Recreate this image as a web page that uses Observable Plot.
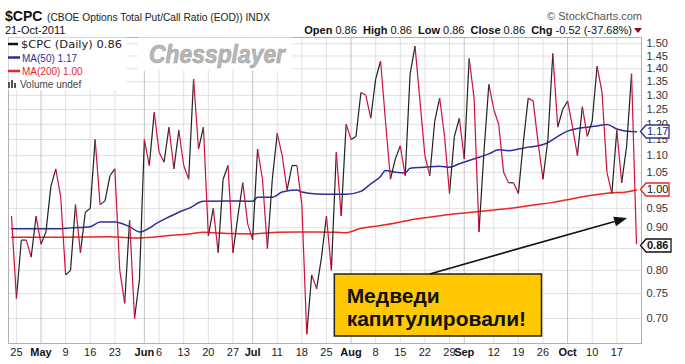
<!DOCTYPE html>
<html><head><meta charset="utf-8">
<script src="https://cdn.jsdelivr.net/npm/d3@7"></script>
<script src="https://cdn.jsdelivr.net/npm/@observablehq/plot@0.6"></script>
<style>
body{margin:0;background:#fff;font-family:"Liberation Sans",Arial,sans-serif;}
#wrap{position:relative;width:685px;height:364px;overflow:hidden;background:#fff;}
#chart{position:absolute;left:0;top:0;}
#overlay{position:absolute;left:0;top:0;pointer-events:none;}
</style></head><body>
<div id="wrap"><div id="chart"></div><svg id="overlay" width="685" height="364"></svg></div>
<script>
// $CPC daily closes, trading days 21-Apr-2011 .. 21-Oct-2011 (index = trading day)
const cpc = [
0.93,0.74,0.87,0.87,0.83,0.93,0.86,0.89,1.01,1.06,
0.98,0.79,0.80,0.96,0.84,0.94,0.95,1.15,0.96,0.97,
1.04,1.06,0.80,0.73,0.92,0.70,0.78,1.15,1.07,1.24,
1.11,1.08,1.19,1.06,1.18,1.07,1.03,1.36,1.12,1.19,
0.88,0.95,0.84,1.03,1.07,0.84,0.93,1.02,0.91,0.87,
1.12,1.03,0.85,1.03,1.17,1.10,1.00,1.07,1.07,0.96,
0.67,0.79,0.76,0.83,0.93,0.80,1.11,0.93,1.20,1.15,
1.16,1.31,1.30,1.22,1.36,1.43,1.21,1.03,1.09,1.13,
1.04,1.38,1.49,1.28,1.10,1.04,1.21,1.29,1.16,0.99,
1.16,1.22,1.09,1.44,1.29,0.89,1.11,1.34,1.25,1.20,
1.05,1.02,1.02,0.99,1.14,1.29,1.28,1.14,1.03,1.15,
1.46,1.19,1.25,1.28,1.19,1.10,1.26,1.16,1.21,1.41,
1.31,1.05,0.99,1.18,1.02,1.13,1.38,0.86];

// MA(50) read at sample trading days
const ma50Idx = [0,10,12,16,18,21,24,26,30,34,36,39,44,49,50,53,55,58,59,62,66,68,71,73,75,76,78,80,81,84,87,89,91,93,95,97,99,101,103,105,107,109,110,111,113,115,117,119,121,123,125,127];
const ma50Val = [0.898,0.898,0.900,0.903,0.915,0.915,0.903,0.890,0.915,0.940,0.950,0.969,0.970,0.969,0.980,0.980,0.994,1.000,0.994,0.989,0.988,0.988,0.996,1.017,1.038,1.055,1.050,1.048,1.062,1.065,1.068,1.065,1.075,1.085,1.095,1.105,1.118,1.115,1.120,1.126,1.130,1.140,1.150,1.160,1.177,1.186,1.190,1.194,1.199,1.184,1.177,1.175];

// MA(200) read at sample trading days
const ma200Idx = [0,10,20,26,32,36,39,44,49,54,58,62,66,68,71,75,78,81,85,89,95,99,103,108,110,114,118,122,124,127];
const ma200Val = [0.877,0.877,0.878,0.875,0.881,0.885,0.889,0.886,0.885,0.889,0.890,0.890,0.889,0.888,0.899,0.906,0.912,0.920,0.927,0.934,0.942,0.947,0.953,0.962,0.966,0.976,0.985,0.992,0.993,1.000];

// x-axis ticks (trading-day index) and labels
const weekIdx = [1,11,16,21,30,35,40,45,54,59,64,74,79,84,89,98,103,108,118,123];
const weekLabels = ["25","9","16","23","6","13","20","27","11","18","25","8","15","22","29","12","19","26","10","17"];
const monthIdx = [6,27,49,69,92,113];
const monthLabels = ["May","Jun","Jul","Aug","Sep","Oct"];

// y-axis ticks
const yTicks = [0.70,0.75,0.80,0.85,0.90,0.95,1.00,1.05,1.10,1.15,1.20,1.25,1.30,1.35,1.40,1.45,1.50];
const yLabelTicks = [0.70,0.75,0.80,0.90,0.95,1.05,1.10,1.15,1.20,1.25,1.30,1.35,1.40,1.45,1.50];

// right-axis value flags
const flagValues = [1.175, 1.00, 0.857];
const flagLabels = ["1.17", "1.00", "0.86"];

// annotation
const noteLines = ["Медведи", "капитулировали!"];

const UP = "#222222", DOWN = "#d0103a", BLUE = "#2e2e96", RED = "#ee2424";
const flagColors = [BLUE, RED, "#111"];

const noteBox = {x1: 65.7, x2: 107.8, y1: 0.6658, y2: 0.7908};
const noteText = noteLines.map((t, k) => ({t, x: 68.1, y: [0.730, 0.685][k]}));
const arrow = {x1: 85.1, y1: 0.791, x2: 125.2, y2: 0.924};

const segs = d3.range(cpc.length - 1).map(i => ({i, a: cpc[i], b: cpc[i + 1]}));
const ma50 = ma50Idx.map((x, k) => ({x, v: ma50Val[k]}));
const ma200 = ma200Idx.map((x, k) => ({x, v: ma200Val[k]}));
const labelMap = new Map([...weekIdx.map((d, k) => [d, weekLabels[k]]), ...monthIdx.map((d, k) => [d, monthLabels[k]])]);
const X_DOMAIN = [-0.61, 128.02];

function arrowMark(index, scales) {
  const g = d3.create("svg:g");
  const x1 = scales.x(arrow.x1), y1 = scales.y(arrow.y1), x2 = scales.x(arrow.x2), y2 = scales.y(arrow.y2);
  const ang = Math.atan2(y2 - y1, x2 - x1), L = 13, W = 5;
  const bx = x2 - L * Math.cos(ang), by = y2 - L * Math.sin(ang);
  g.append("line").attr("x1", x1).attr("y1", y1).attr("x2", bx).attr("y2", by)
    .attr("stroke", "#111").attr("stroke-width", 1.6);
  const px = -Math.sin(ang) * W, py = Math.cos(ang) * W;
  g.append("path").attr("d", `M${x2},${y2}L${bx + px},${by + py}L${bx - px},${by - py}Z`).attr("fill", "#111");
  return g.node();
}

const chart = Plot.plot({
  width: 685, height: 364,
  marginTop: 37, marginBottom: 21, marginLeft: 8, marginRight: 44,
  x: {domain: X_DOMAIN},
  y: {type: "log", domain: [0.653, 1.5263]},
  style: {fontFamily: "'Liberation Sans', Arial, sans-serif", fontSize: "11px", color: "#222", background: "#fff"},
  marks: [
    Plot.gridY(yTicks, {stroke: "#e0e0e0", strokeOpacity: 1}),
    Plot.gridX(weekIdx, {stroke: "#e0e0e0", strokeOpacity: 1}),
    Plot.gridX(monthIdx, {stroke: "#c4c4c4", strokeOpacity: 1}),
    Plot.frame({stroke: "#b0b0b0"}),
    Plot.axisY(yLabelTicks, {anchor: "right", tickSize: 0, tickPadding: 5, tickFormat: d3.format(".2f"), label: null, fill: "#333"}),
    Plot.axisX(weekIdx, {tickSize: 0, tickPadding: 5, tickFormat: d => labelMap.get(d), label: null, fill: "#222"}),
    Plot.axisX(monthIdx, {tickSize: 0, tickPadding: 5, tickFormat: d => labelMap.get(d), label: null, fontWeight: "bold", fill: "#111"}),
    Plot.line(ma200, {x: "x", y: "v", stroke: RED, strokeWidth: 1.5, curve: "monotone-x"}),
    Plot.line(ma50, {x: "x", y: "v", stroke: BLUE, strokeWidth: 1.5, curve: "monotone-x"}),
    Plot.link(segs.filter(d => d.b >= d.a), {x1: "i", x2: d => d.i + 1, y1: "a", y2: "b", stroke: UP, strokeWidth: 1.2}),
    Plot.link(segs.filter(d => d.b < d.a), {x1: "i", x2: d => d.i + 1, y1: "a", y2: "b", stroke: DOWN, strokeWidth: 1.2}),
    Plot.rect([noteBox], {x1: "x1", x2: "x2", y1: "y1", y2: "y2", fill: "#FFC800", stroke: "#222", strokeWidth: 1.5}),
    Plot.text(noteText, {x: "x", y: "y", text: "t", textAnchor: "start", lineAnchor: "bottom", fontSize: 21, fontWeight: "bold", fill: "#111"}),
    arrowMark
  ]
});
document.getElementById("chart").appendChild(chart);

// Overlay: header, legend, watermark, value flags
const ov = d3.select("#overlay");
const F = "'Liberation Sans', Arial, sans-serif";
const xs = chart.scale("x"), ys = chart.scale("y");

// value flags on the right axis (positioned through the plot's own y scale)
const xr = xs.apply(X_DOMAIN[1]);
flagValues.forEach((v, k) => {
  const yc = Math.round(ys.apply(v)) + 0.5, h = 6.5, w = k === 2 ? 30 : 28;
  ov.append("path")
    .attr("d", `M${xr - 0.5},${yc}L${xr + 5},${yc - h}L${xr + w},${yc - h}L${xr + w},${yc + h}L${xr + 5},${yc + h}Z`)
    .attr("fill", "#fff").attr("stroke", flagColors[k]).attr("stroke-width", 1.3);
  ov.append("text").attr("x", xr + 6).attr("y", yc).attr("dy", "0.36em")
    .attr("font-family", F).attr("font-size", 11).attr("font-weight", k === 2 ? "bold" : "normal")
    .attr("fill", k === 0 ? "#1e1e70" : "#111").text(flagLabels[k]);
});

ov.append("text").attr("x", 5).attr("y", 21).attr("font-family", F).attr("font-size", 14).attr("font-weight", "bold").attr("fill", "#111").text("$CPC");
ov.append("text").attr("x", 47).attr("y", 21).attr("font-family", F).attr("font-size", 10.5).attr("fill", "#222")
  .attr("textLength", 223).attr("lengthAdjust", "spacingAndGlyphs").text("(CBOE Options Total Put/Call Ratio (EOD)) INDX");
ov.append("text").attr("x", 642).attr("y", 20).attr("text-anchor", "end").attr("font-family", F).attr("font-size", 11).attr("fill", "#555").text("© StockCharts.com");
ov.append("text").attr("x", 5).attr("y", 34).attr("font-family", F).attr("font-size", 11).attr("fill", "#111").text("21-Oct-2011");
const ohlc = ov.append("text").attr("x", 632).attr("y", 34).attr("text-anchor", "end").attr("font-family", F).attr("font-size", 11).attr("fill", "#111");
[["Open", true], [" 0.86  ", false], ["High", true], [" 0.86  ", false], ["Low", true], [" 0.86  ", false], ["Close", true], [" 0.86  ", false], ["Chg", true], [" -0.52 (-37.68%)", false]]
  .forEach(([t, b]) => ohlc.append("tspan").attr("font-weight", b ? "bold" : "normal").attr("xml:space", "preserve").text(t));
ov.append("path").attr("d", "M634,28L642,28L638,33Z").attr("fill", "#8a0a30");

// legend
ov.append("rect").attr("x", 8.5).attr("y", 37.5).attr("width", 118).attr("height", 53).attr("fill", "#fff");
ov.append("line").attr("x1", 8).attr("x2", 18).attr("y1", 44).attr("y2", 44).attr("stroke", "#111").attr("stroke-width", 2.5);
ov.append("text").attr("x", 21).attr("y", 48).attr("font-family", "'DejaVu Sans', Verdana, sans-serif").attr("font-size", 11).attr("fill", "#222")
  .attr("textLength", 101).attr("lengthAdjust", "spacingAndGlyphs").text("$CPC (Daily) 0.86");
ov.append("line").attr("x1", 8).attr("x2", 20).attr("y1", 57.5).attr("y2", 57.5).attr("stroke", BLUE).attr("stroke-width", 2.5);
ov.append("text").attr("x", 22).attr("y", 61.5).attr("font-family", F).attr("font-size", 10).attr("fill", BLUE).text("MA(50) 1.17");
ov.append("line").attr("x1", 8).attr("x2", 20).attr("y1", 71).attr("y2", 71).attr("stroke", RED).attr("stroke-width", 2.5);
ov.append("text").attr("x", 22).attr("y", 75).attr("font-family", F).attr("font-size", 10).attr("fill", RED).text("MA(200) 1.00");
[[8, 82], [11, 80], [14, 83]].forEach(([x, y]) => ov.append("rect").attr("x", x).attr("y", y).attr("width", 2).attr("height", 88 - y).attr("fill", "#555"));
ov.append("text").attr("x", 20).attr("y", 88).attr("font-family", F).attr("font-size", 10).attr("fill", "#444").text("Volume undef");

// watermark
ov.append("rect").attr("x", 138).attr("y", 37.5).attr("width", 154).attr("height", 33).attr("fill", "#fff");
ov.append("text").attr("x", 149).attr("y", 63).attr("font-family", F).attr("font-size", 25).attr("font-weight", "bold").attr("font-style", "italic")
  .attr("fill", "#b8b8b8").attr("stroke", "#a0a0a0").attr("stroke-width", 0.6)
  .attr("textLength", 136).attr("lengthAdjust", "spacingAndGlyphs").text("Chessplayer");
</script>
</body></html>
